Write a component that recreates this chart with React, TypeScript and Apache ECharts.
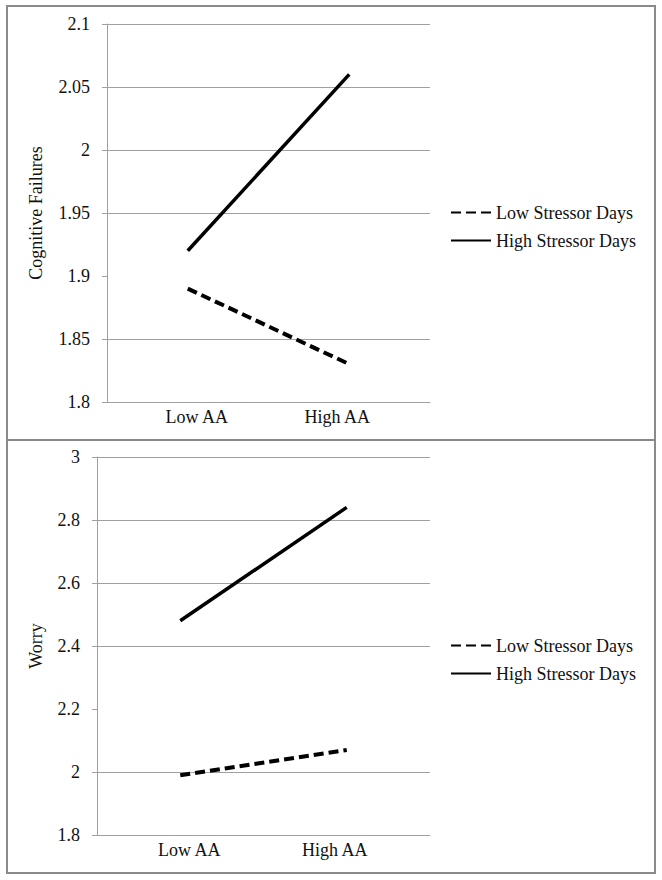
import React, { useEffect, useRef } from "react";
import * as echarts from "echarts";

const categories = ["Low AA", "High AA"];
const seriesNames = ["Low Stressor Days", "High Stressor Days"];
const cfLow = [1.89, 1.83];
const cfHigh = [1.92, 2.06];
const worryLow = [1.99, 2.07];
const worryHigh = [2.48, 2.84];
const cfAxis = { name: "Cognitive Failures", min: 1.8, max: 2.1, interval: 0.05 };
const worryAxis = { name: "Worry", min: 1.8, max: 3, interval: 0.2 };
// gridlines visible in the reference (1.9 and 2.2 are absent there)
const cfGridValues = [1.85, 1.95, 2, 2.05, 2.1];
const worryGridValues = [2, 2.4, 2.6, 2.8, 3];

const FONT = "'Liberation Serif', 'Times New Roman', serif";
const GRID = "#a0a0a0";
const FRAME = "#8a8a8a";
const TEXT = "#111";

function yAxisFor(ax: typeof cfAxis, gridIndex: number, nameGap: number) {
  return {
    type: "value",
    gridIndex,
    min: ax.min,
    max: ax.max,
    interval: ax.interval,
    name: ax.name,
    nameLocation: "middle",
    nameRotate: 90,
    nameGap,
    nameTextStyle: { fontFamily: FONT, fontSize: 18, color: TEXT },
    axisLine: { show: true, lineStyle: { color: GRID, width: 1 } },
    axisTick: { show: true, length: 5, lineStyle: { color: GRID } },
    axisLabel: { fontFamily: FONT, fontSize: 18, color: TEXT, margin: 17 },
    splitLine: { show: false },
  };
}

function xAxisFor(gridIndex: number) {
  return {
    type: "category",
    gridIndex,
    data: categories,
    boundaryGap: true,
    axisLine: { show: true, lineStyle: { color: GRID, width: 1 } },
    axisTick: { show: false },
    axisLabel: {
      fontFamily: FONT,
      fontSize: 18,
      color: TEXT,
      margin: 6,
      formatter: (v: string, i: number) => (i === 0 ? `{a|${v}}` : `{b|${v}}`),
      rich: {
        a: { fontFamily: FONT, fontSize: 18, color: TEXT, padding: [0, 0, 0, 18] },
        b: { fontFamily: FONT, fontSize: 18, color: TEXT, padding: [0, 24, 0, 0] },
      },
    },
    splitLine: { show: false },
  };
}

function lineSeries(name: string, data: number[], idx: number, dashed: boolean) {
  return {
    type: "line",
    name,
    xAxisIndex: idx,
    yAxisIndex: idx,
    data,
    z: 3,
    symbol: "none",
    lineStyle: {
      color: "#000",
      width: dashed ? 4 : 3.5,
      type: dashed ? [10, 5] : "solid",
      cap: "butt",
    },
    itemStyle: { color: "#000" },
  };
}

function gridSeries(values: number[], idx: number) {
  return {
    type: "line",
    name: "grid" + idx,
    xAxisIndex: idx,
    yAxisIndex: idx,
    data: [],
    z: 1,
    silent: true,
    symbol: "none",
    markLine: {
      silent: true,
      z: 1,
      symbol: ["none", "none"],
      label: { show: false },
      emphasis: { disabled: true },
      lineStyle: { color: GRID, width: 1, type: "solid" },
      data: values.map((v) => ({ yAxis: v })),
    },
  };
}

function legendAt(top: number) {
  return {
    show: true,
    orient: "vertical",
    left: 445,
    top,
    data: seriesNames,
    selectedMode: false,
    itemWidth: 40,
    itemHeight: 14,
    itemGap: 9,
    itemStyle: { color: "rgba(0,0,0,0)", borderWidth: 0, opacity: 0 },
    textStyle: { fontFamily: FONT, fontSize: 18, color: TEXT, lineHeight: 19 },
  };
}

export default function App() {
  const ref = useRef<HTMLDivElement>(null);
  useEffect(() => {
    if (!ref.current) return;
    const chart = echarts.init(ref.current, null, { renderer: "svg" });
    chart.setOption({
      animation: false,
      backgroundColor: "#fff",
      grid: [
        { left: 107, right: 232, top: 24, bottom: 478 },
        { left: 97, right: 232, top: 457, bottom: 45 },
      ],
      xAxis: [xAxisFor(0), xAxisFor(1)],
      yAxis: [yAxisFor(cfAxis, 0, 62), yAxisFor(worryAxis, 1, 52)],
      legend: [legendAt(198), legendAt(631)],
      series: [
        gridSeries(cfGridValues, 0),
        gridSeries(worryGridValues, 1),
        lineSeries(seriesNames[0], cfLow, 0, true),
        lineSeries(seriesNames[1], cfHigh, 0, false),
        lineSeries(seriesNames[0], worryLow, 1, true),
        lineSeries(seriesNames[1], worryHigh, 1, false),
      ],
      graphic: [
        {
          type: "rect",
          shape: { x: 7, y: 6, width: 648, height: 434 },
          style: { fill: "none", stroke: FRAME, lineWidth: 2 },
          silent: true,
        },
        {
          type: "rect",
          shape: { x: 7, y: 440, width: 648, height: 433 },
          style: { fill: "none", stroke: FRAME, lineWidth: 2 },
          silent: true,
        },
      ],
    });
    return () => chart.dispose();
  }, []);
  return (
    <div
      ref={ref}
      style={{ position: "absolute", left: 0, top: 0, width: 662, height: 880 }}
    />
  );
}
